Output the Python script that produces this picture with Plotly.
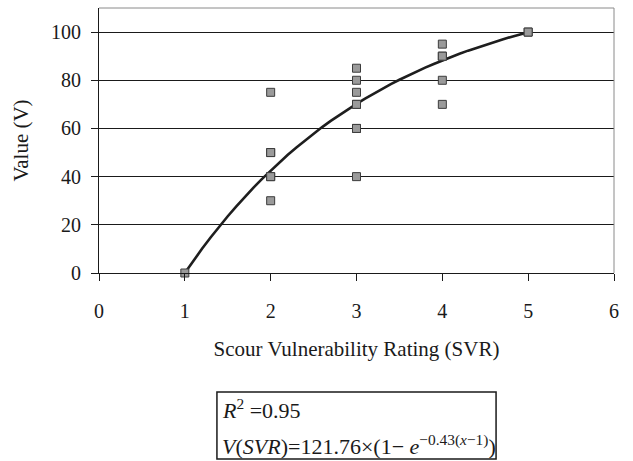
import numpy as np
import plotly.graph_objects as go

# Observed ratings and values
svr = [1, 2, 2, 2, 2, 2, 2, 3, 3, 3, 3, 3, 3, 3, 3, 4, 4, 4, 4, 4, 5, 5]
value = [0, 75, 50, 50, 40, 40, 30, 85, 80, 75, 70, 70, 60, 60, 40, 95, 90, 90, 80, 70, 100, 100]

# Fitted exponential model V(SVR) = A * (1 - exp(-k (x - 1)))
fit_a = 121.76
fit_k = 0.43
fit_r2 = 0.95
fit_x = np.linspace(1, 5, 41)
fit_v = fit_a * (1 - np.exp(-fit_k * (fit_x - 1)))

x_ticks = [0, 1, 2, 3, 4, 5, 6]
y_ticks = [0, 20, 40, 60, 80, 100]

FONT = "Liberation Serif, Times New Roman, serif"

fig = go.Figure()
fig.add_trace(go.Scatter(
    x=fit_x, y=fit_v, mode="lines",
    line=dict(color="#1e1e1e", width=2.6), showlegend=False, hoverinfo="skip",
))
fig.add_trace(go.Scatter(
    x=svr, y=value, mode="markers",
    marker=dict(symbol="square", size=8, color="#9a9a9a",
                line=dict(color="#3c3c3c", width=1)),
    showlegend=False, cliponaxis=False,
))

fig.update_layout(
    width=633, height=461,
    margin=dict(l=99, r=19, t=8, b=188),
    paper_bgcolor="white", plot_bgcolor="white",
    font=dict(family=FONT, size=20, color="#1a1a1a"),
    xaxis=dict(
        range=[0, 6], tickvals=x_ticks, ticktext=[str(t) for t in x_ticks],
        showgrid=False, zeroline=False,
        showline=True, linecolor="#1a1a1a", linewidth=1,
        ticks="outside", ticklen=7, tickcolor="#1a1a1a", tickwidth=1,
        ticklabelstandoff=13,
        title=dict(text="Scour Vulnerability Rating (SVR)", font=dict(size=21), standoff=20),
    ),
    yaxis=dict(
        range=[0, 110], tickvals=y_ticks, ticktext=[str(t) for t in y_ticks],
        showgrid=True, gridcolor="#1a1a1a", gridwidth=1, zeroline=False,
        showline=True, linecolor="#1a1a1a", linewidth=1,
        ticks="outside", ticklen=7, tickcolor="#1a1a1a", tickwidth=1,
        ticklabelstandoff=6,
        title=dict(text="Value (V)", font=dict(size=21), standoff=16),
    ),
)

# Plot-area frame on the top and right
fig.add_shape(type="line", xref="paper", yref="paper", x0=0, x1=1, y0=1, y1=1,
              line=dict(color="#8a8a8a", width=1))
fig.add_shape(type="line", xref="paper", yref="paper", x0=1, x1=1, y0=0, y1=1,
              line=dict(color="#8a8a8a", width=1))

# Equation box centred below the chart
fig.add_shape(type="rect", xref="paper", yref="paper",
              x0=0.229, x1=0.771, y0=-0.702, y1=-0.449,
              line=dict(color="#1a1a1a", width=1.5), fillcolor="white")
fig.add_annotation(
    xref="paper", yref="paper", x=0.234, y=-0.515, xanchor="left", yanchor="middle",
    text=f"<i>R</i><sup>2</sup> ={fit_r2:.2f}",
    showarrow=False, font=dict(family=FONT, size=22),
)
fig.add_annotation(
    xref="paper", yref="paper", x=0.234, y=-0.65, xanchor="left", yanchor="middle",
    text=(f"<i>V</i>(<i>SVR</i>)={fit_a:.2f}×(1− <i>e</i>"
          f"<sup>−{fit_k:.2f}(<i>x</i>−1)</sup>)"),
    showarrow=False, font=dict(family=FONT, size=22),
)

fig.write_html("out.html")
